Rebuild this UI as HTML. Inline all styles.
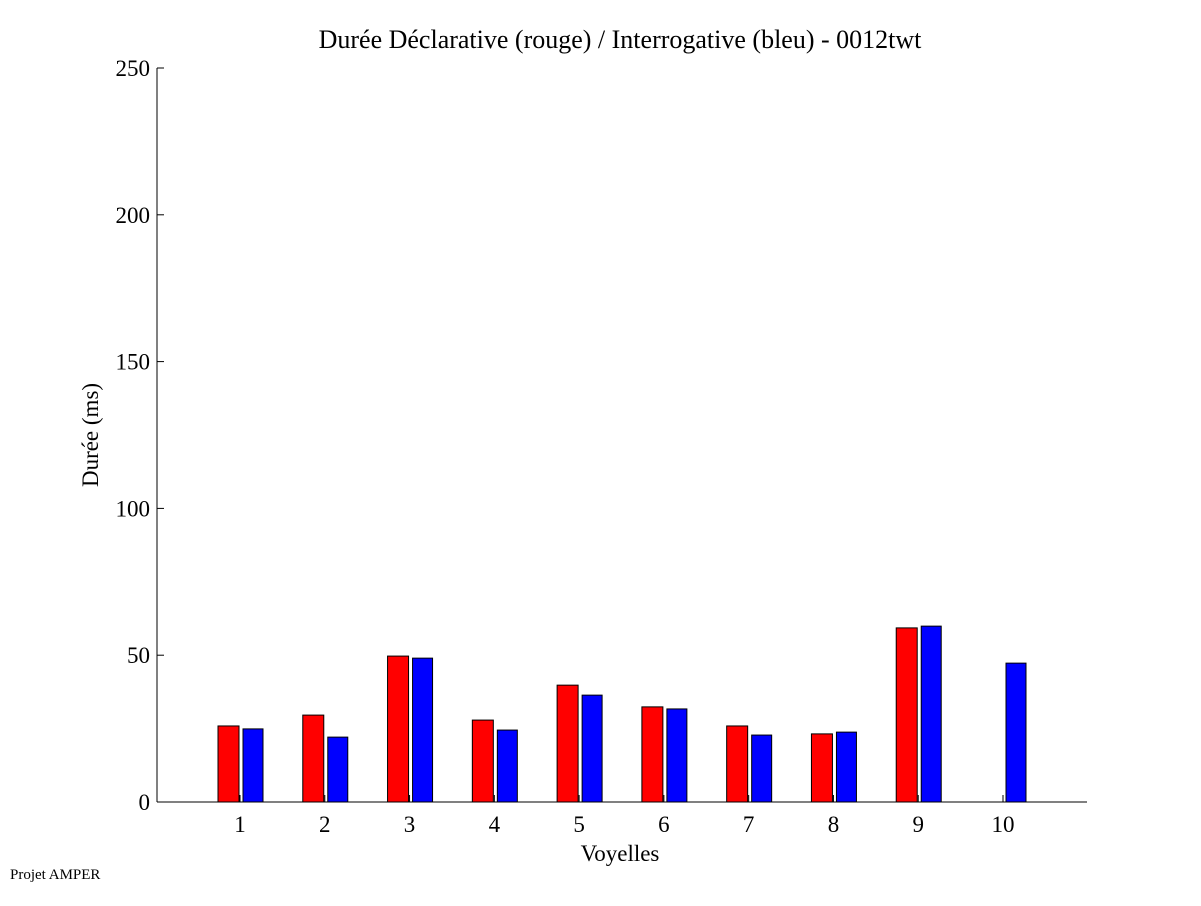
<!DOCTYPE html>
<html><head><meta charset="utf-8"><style>
body{margin:0;background:#fff}
text{font-family:"Liberation Serif",serif;fill:#000}
</style></head><body>
<svg width="1201" height="901">
<text x="620" y="48" font-size="26" text-anchor="middle">Durée Déclarative (rouge) / Interrogative (bleu) - 0012twt</text>
<text transform="translate(98,435) rotate(-90)" font-size="23" text-anchor="middle">Durée (ms)</text>
<text x="620" y="861" font-size="23" text-anchor="middle">Voyelles</text>
<text x="10" y="879" font-size="15">Projet AMPER</text>
<g id="axes"></g>
<g id="bars"></g>
</svg>
<script>
const categories=["1","2","3","4","5","6","7","8","9","10"];
const redValues=[25.9,29.6,49.7,27.9,39.8,32.4,25.9,23.2,59.3,0];
const blueValues=[24.9,22.1,49.0,24.5,36.4,31.7,22.8,23.8,59.9,47.3];
const yTicks=[0,50,100,150,200,250];
const NS="http://www.w3.org/2000/svg";
const x0=157,x1=1087,yb=802,yt=68;
function yS(v){return yb-(v/250)*(yb-yt);}
function xS(i){return 240+i*(1003-240)/9;}
function mk(t,a,p){const e=document.createElementNS(NS,t);for(const k in a)e.setAttribute(k,a[k]);p.appendChild(e);return e;}
const ax=document.getElementById('axes'),bg=document.getElementById('bars');
const yl=mk('line',{x1:x0,y1:yt,x2:x0,y2:yb,stroke:'#000'},ax);


const xl=mk('line',{x1:x0,y1:yb,x2:x1,y2:yb,stroke:'#000'},ax);


yTicks.forEach(v=>{const y=yS(v);
mk('line',{x1:x0,y1:y,x2:x0+7,y2:y,stroke:'#000'},ax);
const t=mk('text',{x:x0-7,y:y+8,'font-size':23,'text-anchor':'end'},ax);t.textContent=v;

});
categories.forEach((c,i)=>{const x=xS(i);
mk('line',{x1:x,y1:yb,x2:x,y2:yb-7,stroke:'#000'},ax);
const t=mk('text',{x:x,y:yb+30,'font-size':23,'text-anchor':'middle'},ax);t.textContent=c;


if(redValues[i]>0){const r=mk('rect',{x:x-22,y:yS(redValues[i]),width:21,height:yb-yS(redValues[i]),fill:'#f00',stroke:'#000','stroke-width':1},bg);

}
if(blueValues[i]>0){const b=mk('rect',{x:x+3,y:yS(blueValues[i]),width:20,height:yb-yS(blueValues[i]),fill:'#00f',stroke:'#000','stroke-width':1},bg);

}
});
</script>
</body></html>
